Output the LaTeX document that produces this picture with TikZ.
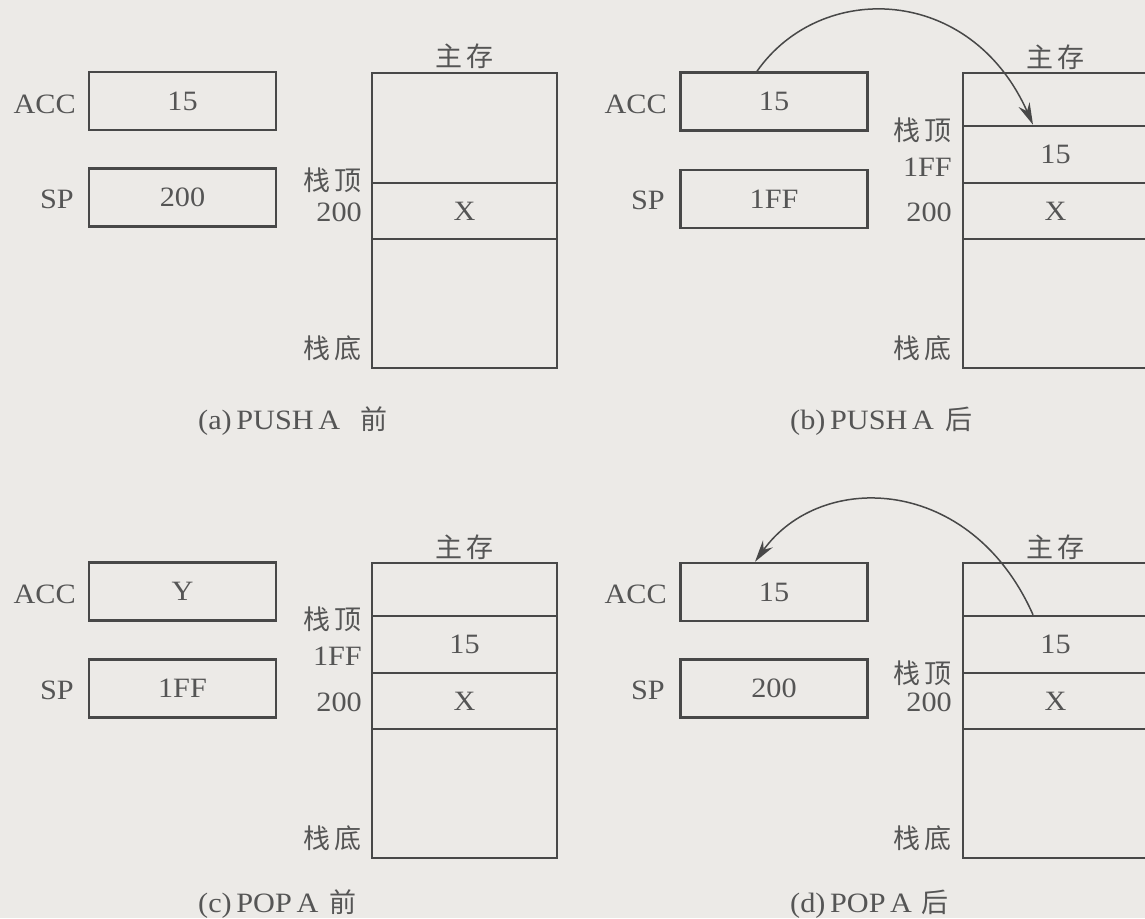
\documentclass[tikz,border=0pt]{standalone}
\usepackage{fontspec}
\setmainfont{Liberation Serif}[FakeStretch=1.08]
\newfontfamily\cjk{Noto Sans CJK SC}
\usetikzlibrary{arrows.meta}
\definecolor{bgc}{RGB}{236,234,231}
\definecolor{ink}{RGB}{72,72,72}
\definecolor{txt}{RGB}{85,85,85}
\newcommand\lat{\fontsize{28pt}{30pt}\selectfont}
\newcommand\zh{\cjk\fontsize{27pt}{29pt}\selectfont}
\newcommand\pair[2]{#1\hspace{4pt}#2}
\begin{document}
\begin{tikzpicture}[x=1pt,y=-1pt,
  reg/.style={draw=ink,line width=2.5pt,minimum width=187pt,minimum height=58pt,inner sep=0pt,text=txt,font=\lat},
  cell/.style={draw=ink,line width=2.5pt,minimum width=185pt,inner sep=0pt,text=txt,font=\lat},
  lab/.style={inner sep=0pt,text=txt,font=\lat},
  zhlab/.style={inner sep=0pt,text=txt,font=\zh},
  flow/.style={draw=ink,line width=1.5pt,-{Stealth[length=22pt,width=12pt]}}]
\useasboundingbox (0,0) rectangle (1145,918);
\clip (0,0) rectangle (1145,918);
\fill[bgc] (0,0) rectangle (1145,918);

% ---------- (a) PUSH A before ----------
\begin{scope}
\node[reg] (aAcc) at (182.5,101) {15};
\node[lab,anchor=east] (aAccL) at (76,104) {ACC};
\node[reg] (aSp) at (182.5,197.5) {200};
\node[lab,anchor=east] (aSpL) at (74,199) {SP};
\node[cell,minimum height=110pt] (aM1) at (464.5,128) {};
\node[cell,minimum height=56pt] (aM2) at (464.5,211) {X};
\node[cell,minimum height=129pt] (aM3) at (464.5,303.5) {};
\node[zhlab] (aMain) at (464.5,56) {\pair{主}{存}};
\node[zhlab,anchor=east] (aTop) at (362,180) {\pair{栈}{顶}};
\node[lab,anchor=east] (aAddr) at (362,212) {200};
\node[zhlab,anchor=east] (aBot) at (362,348) {\pair{栈}{底}};
\node[lab,anchor=west] (aCap) at (198,421) {(a)\,PUSH\,A\hspace{20pt}{\zh 前}};
\end{scope}

% ---------- (b) PUSH A after ----------
\begin{scope}[shift={(591,0)}]
\node[reg] (bAcc) at (183,101.5) {15};
\node[lab,anchor=east] (bAccL) at (76,104) {ACC};
\node[reg] (bSp) at (183,199) {1FF};
\node[lab,anchor=east] (bSpL) at (74,200) {SP};
\node[cell,minimum height=53pt] (bM1) at (464.5,99.5) {};
\node[cell,minimum height=57pt] (bM2) at (464.5,154.5) {15};
\node[cell,minimum height=56pt] (bM3) at (464.5,211) {X};
\node[cell,minimum height=129pt] (bM4) at (464.5,303.5) {};
\node[zhlab] (bMain) at (464.5,57) {\pair{主}{存}};
\node[zhlab,anchor=east] (bTop) at (361,130) {\pair{栈}{顶}};
\node[lab,anchor=east] (bAddr1) at (361,167) {1FF};
\node[lab,anchor=east] (bAddr2) at (361,212) {200};
\node[zhlab,anchor=east] (bBot) at (361,348) {\pair{栈}{底}};
\node[lab,anchor=west] (bCap) at (199,421) {(b)\,PUSH\,A\hspace{12pt}{\zh 后}};
\coordinate (bS) at ([xshift=-17pt]bAcc.north);
\coordinate (bE) at ([xshift=-22.5pt]bM2.north);
\draw[flow] (bS) .. controls (230,-20) and (380,-15) .. (bE);
\end{scope}

% ---------- (c) POP A before ----------
\begin{scope}[shift={(0,490)}]
\node[reg] (cAcc) at (182.5,101.5) {Y};
\node[lab,anchor=east] (cAccL) at (76,104) {ACC};
\node[reg] (cSp) at (182.5,198.5) {1FF};
\node[lab,anchor=east] (cSpL) at (74,200) {SP};
\node[cell,minimum height=53pt] (cM1) at (464.5,99.5) {};
\node[cell,minimum height=57pt] (cM2) at (464.5,154.5) {15};
\node[cell,minimum height=56pt] (cM3) at (464.5,211) {X};
\node[cell,minimum height=129pt] (cM4) at (464.5,303.5) {};
\node[zhlab] (cMain) at (464.5,57) {\pair{主}{存}};
\node[zhlab,anchor=east] (cTop) at (362,129) {\pair{栈}{顶}};
\node[lab,anchor=east] (cAddr1) at (362,166) {1FF};
\node[lab,anchor=east] (cAddr2) at (362,212) {200};
\node[zhlab,anchor=east] (cBot) at (362,348) {\pair{栈}{底}};
\node[lab,anchor=west] (cCap) at (198,414) {(c)\,POP\,A\hspace{11pt}{\zh 前}};
\end{scope}

% ---------- (d) POP A after ----------
\begin{scope}[shift={(591,490)}]
\node[reg] (dAcc) at (183,102) {15};
\node[lab,anchor=east] (dAccL) at (76,104) {ACC};
\node[reg] (dSp) at (183,198.5) {200};
\node[lab,anchor=east] (dSpL) at (74,200) {SP};
\node[cell,minimum height=53pt] (dM1) at (464.5,99.5) {};
\node[cell,minimum height=57pt] (dM2) at (464.5,154.5) {15};
\node[cell,minimum height=56pt] (dM3) at (464.5,211) {X};
\node[cell,minimum height=129pt] (dM4) at (464.5,303.5) {};
\node[zhlab] (dMain) at (464.5,57) {\pair{主}{存}};
\node[zhlab,anchor=east] (dTop) at (361,183) {\pair{栈}{顶}};
\node[lab,anchor=east] (dAddr) at (361,212) {200};
\node[zhlab,anchor=east] (dBot) at (361,348) {\pair{栈}{底}};
\node[lab,anchor=west] (dCap) at (199,414) {(d)\,POP\,A\hspace{9pt}{\zh 后}};
\coordinate (dS) at ([xshift=-22.5pt]dM2.north);
\coordinate (dE) at ([xshift=-19pt]dAcc.north);
\draw[flow] (dS) .. controls (380,-15) and (230,-20) .. (dE);
\end{scope}
\end{tikzpicture}
\end{document}
